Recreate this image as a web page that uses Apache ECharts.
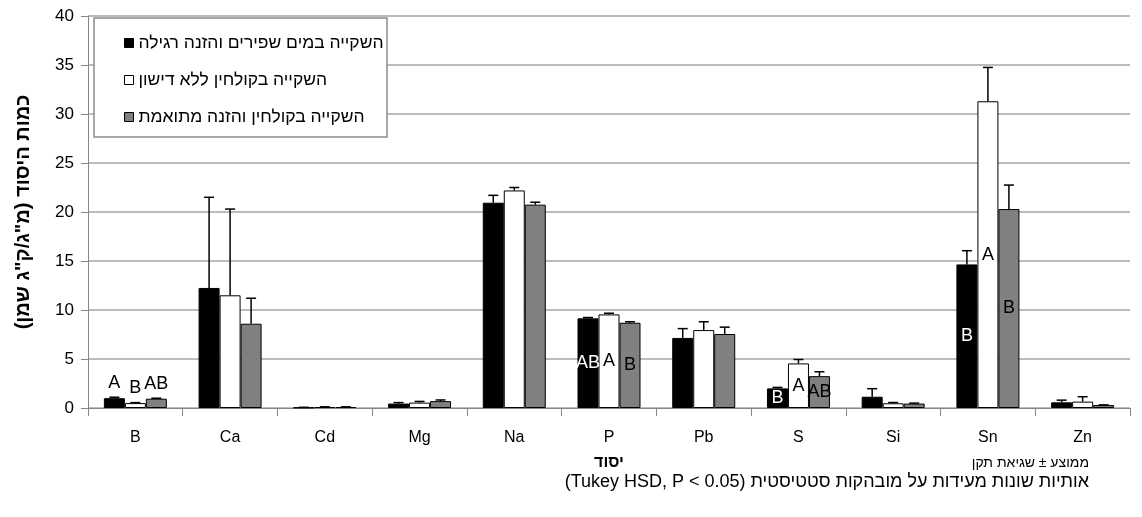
<!DOCTYPE html>
<html><head><meta charset="utf-8">
<script src="https://cdn.jsdelivr.net/npm/echarts@6/dist/echarts.min.js"></script>
<style>html,body{margin:0;padding:0;background:#fff}#c{width:1142px;height:517px}</style>
</head><body><div id="c"></div>
<script>
const categories = ['B','Ca','Cd','Mg','Na','P','Pb','S','Si','Sn','Zn'];
const seriesNames = ['השקייה במים שפירים והזנה רגילה','השקייה בקולחין ללא דישון','השקייה בקולחין והזנה מתואמת'];
const meanRegular  = [1.0, 12.25, 0.05, 0.45, 20.95, 9.15, 7.15, 2.0, 1.15, 14.65, 0.58];
const seRegular    = [0.1, 9.25, 0.02, 0.1, 0.75, 0.08, 0.95, 0.1, 0.82, 1.4, 0.22];
const meanNoFert   = [0.5, 11.5, 0.1, 0.55, 22.2, 9.55, 7.95, 4.55, 0.48, 31.3, 0.65];
const seNoFert     = [0.05, 8.8, 0.02, 0.12, 0.3, 0.12, 0.85, 0.4, 0.08, 3.45, 0.5];
const meanAdjusted = [0.95, 8.6, 0.1, 0.7, 20.75, 8.7, 7.55, 3.25, 0.45, 20.3, 0.3];
const seAdjusted   = [0.05, 2.6, 0.02, 0.12, 0.25, 0.1, 0.7, 0.45, 0.05, 2.45, 0.02];
const lettersRegular  = ['A','','','','','AB','','B','','B',''];
const lettersNoFert   = ['B','','','','','A','','A','','A',''];
const lettersAdjusted = ['AB','','','','','B','','AB','','B',''];
const yAxisTitle = 'כמות היסוד (מ"ג/ק"ג שמן)';
const xAxisTitle = 'יסוד';
const note1 = 'ממוצע ± שגיאת תקן';
const note2Hebrew = 'אותיות שונות מעידות על מובהקות סטטיסטית';
const note2Latin = '(Tukey HSD, P < 0.05)';

const FONT = '"Liberation Sans","DejaVu Sans",sans-serif';
const BW = 21;
const fills = ['#000000','#ffffff','#808080'];
const labelColors = ['#ffffff','#000000','#000000'];
const means = [meanRegular, meanNoFert, meanAdjusted];
const ses = [seRegular, seNoFert, seAdjusted];
const letters = [lettersRegular, lettersNoFert, lettersAdjusted];

const NOTE2_FONT = '18px ' + FONT;
const mctx = document.createElement('canvas').getContext('2d');
mctx.font = NOTE2_FONT;
const hebW = mctx.measureText(note2Hebrew).width;
const spW = mctx.measureText(' ').width;
const NOTE_RIGHT = 1089;

const series = [];
means.forEach((m, s) => {
  series.push({
    name: seriesNames[s], type: 'bar', barWidth: BW, barGap: '0%', z: 2,
    itemStyle: { color: fills[s], borderColor: '#000', borderWidth: 1 },
    label: {
      show: true, position: 'inside', color: labelColors[s], fontSize: 18, fontFamily: FONT,
      formatter: p => letters[s][p.dataIndex]
    },
    data: m.map((v, i) => categories[i] === 'B'
      ? { value: v, label: { position: 'top', color: '#000', distance: 6 } } : v)
  });
});
means.forEach((m, s) => {
  const off = (s - 1) * BW;
  series.push({
    type: 'custom', z: 5, silent: true,
    renderItem: (params, api) => {
      const c = api.value(0), v = api.value(1), e = api.value(2);
      const p0 = api.coord([c, v]);
      const p1 = api.coord([c, v + e]);
      const x = p0[0] + off;
      const st = { stroke: '#000', lineWidth: 1.5 };
      return { type: 'group', children: [
        { type: 'line', shape: { x1: x, y1: p0[1], x2: x, y2: p1[1] }, style: st },
        { type: 'line', shape: { x1: x - 5, y1: p1[1], x2: x + 5, y2: p1[1] }, style: st }
      ]};
    },
    data: m.map((v, i) => [i, v, ses[s][i]])
  });
});

const chart = echarts.init(document.getElementById('c'), null, { renderer: 'canvas' });
chart.setOption({
  animation: false,
  backgroundColor: '#fff',
  grid: { left: 88, right: 12, top: 16, bottom: 109, containLabel: false },
  legend: {
    data: seriesNames, orient: 'vertical', left: 119, top: 29,
    icon: 'rect', itemWidth: 9, itemHeight: 9, itemGap: 19,
    textStyle: { fontSize: 17.5, color: '#000', fontFamily: FONT, lineHeight: 18 },
    itemStyle: { borderColor: '#000', borderWidth: 1 }, z: 10
  },
  xAxis: {
    type: 'category', data: categories,
    name: xAxisTitle, nameLocation: 'middle', nameGap: 47,
    nameTextStyle: { fontSize: 16, fontWeight: 'bold', color: '#000', fontFamily: FONT },
    axisLine: { lineStyle: { color: '#868686', width: 1 } },
    axisTick: { show: true, alignWithLabel: false, length: 8, lineStyle: { color: '#868686' } },
    axisLabel: { fontSize: 16, color: '#000', fontFamily: FONT, margin: 22 },
    splitLine: { show: false }
  },
  yAxis: {
    type: 'value', min: 0, max: 40, interval: 5,
    name: yAxisTitle, nameLocation: 'middle', nameRotate: 90, nameGap: 55,
    nameTextStyle: { fontSize: 20, fontWeight: 'bold', color: '#000', fontFamily: FONT },
    axisLine: { show: true, lineStyle: { color: '#868686', width: 1 } },
    axisTick: { show: true, inside: false, length: 7, lineStyle: { color: '#868686' } },
    axisLabel: { fontSize: 17, color: '#000', fontFamily: FONT, margin: 14 },
    splitLine: { show: true, lineStyle: { color: '#a6a6a6', width: 1.5 } }
  },
  graphic: [
    { type: 'rect', z: 3, shape: { x: 94, y: 18, width: 293, height: 119 },
      style: { fill: '#fff', stroke: '#8c8c8c', lineWidth: 1.5 } },
    { type: 'text', z: 3, x: NOTE_RIGHT, y: 463,
      style: { text: note1, fill: '#000', font: '14px ' + FONT, textAlign: 'right', textVerticalAlign: 'middle' } },
    { type: 'text', z: 3, x: NOTE_RIGHT, y: 482,
      style: { text: note2Hebrew, fill: '#000', font: NOTE2_FONT, textAlign: 'right', textVerticalAlign: 'middle' } },
    { type: 'text', z: 3, x: NOTE_RIGHT - hebW - spW, y: 482,
      style: { text: note2Latin, fill: '#000', font: NOTE2_FONT, textAlign: 'right', textVerticalAlign: 'middle' } }
  ],
  series: series
});
</script></body></html>
